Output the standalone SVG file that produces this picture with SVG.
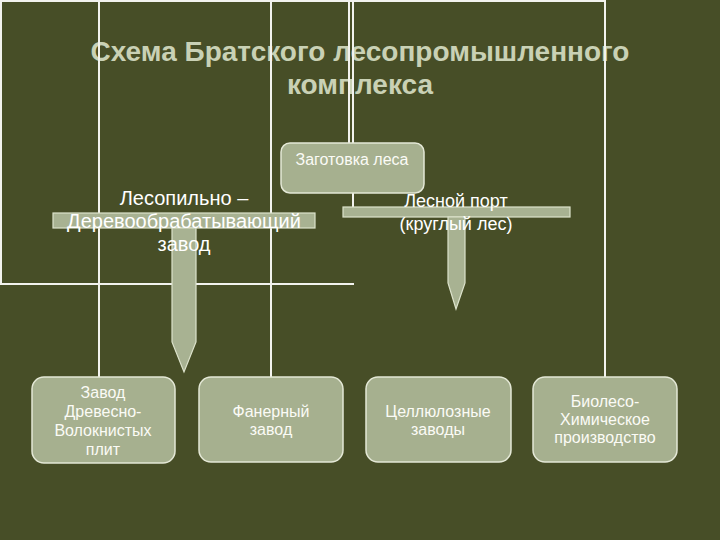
<svg xmlns="http://www.w3.org/2000/svg" width="720" height="540" viewBox="0 0 720 540">
<style>
.title{font-family:"Liberation Sans",Arial,sans-serif;font-weight:bold;font-size:28px;fill:#C9D1B5;text-anchor:middle}
.ln{stroke:#F2F2EE;stroke-width:2;fill:none}
.bar{fill:#A8B292;stroke:#DDE3CC;stroke-width:1.2}
.box{fill:#A6B08F;stroke:#E4E8D6;stroke-width:1.5}
.bt{font-family:"Liberation Sans",Arial,sans-serif;font-size:16px;fill:#FBFBF6;text-anchor:middle}
.lbl{font-family:"Liberation Sans",Arial,sans-serif;fill:#FFFFFF;text-anchor:middle}
</style>
<rect x="0" y="0" width="720" height="540" fill="#474E27"/>
<g id="title">
<text class="title" x="360" y="61">Схема Братского лесопромышленного</text>
<text class="title" x="360" y="94">комплекса</text>
</g>
<g id="connectors">
<line class="ln" x1="0" y1="1" x2="605" y2="1"/>
<line class="ln" x1="1" y1="0" x2="1" y2="284"/>
<line class="ln" x1="0" y1="284" x2="354" y2="284"/>
<line class="ln" x1="99" y1="0" x2="99" y2="377"/>
<line class="ln" x1="271" y1="0" x2="271" y2="377"/>
<line class="ln" x1="349" y1="0" x2="349" y2="143"/>
<line class="ln" x1="353" y1="0" x2="353" y2="143"/>
<line class="ln" x1="605" y1="0" x2="605" y2="377"/>
<line class="ln" x1="353" y1="193" x2="353" y2="207"/>
<rect class="bar" x="53" y="213" width="262" height="15"/>
<path class="bar" d="M172,228 L196,228 L196,342 L184,372 L172,342 Z"/>
<rect class="bar" x="343" y="207" width="227" height="10"/>
<path class="bar" d="M448,217 L465,217 L465,283 L456,309 L448,283 Z"/>
</g>
<g id="lesopil">
<text class="lbl" font-size="20" x="184" y="205">Лесопильно –</text>
<text class="lbl" font-size="20" x="184" y="228">Деревообрабатывающий</text>
<text class="lbl" font-size="20" x="184" y="251">завод</text>
</g>
<g id="port">
<text class="lbl" font-size="18" x="456" y="207">Лесной порт</text>
<text class="lbl" font-size="18" x="456" y="230">(круглый лес)</text>
</g>
<g id="zagotovka">
<rect class="box" x="281" y="143" width="143" height="50" rx="9"/>
<text class="bt" x="352" y="165">Заготовка леса</text>
</g>
<g id="dvp">
<rect class="box" x="32" y="377" width="143" height="86" rx="12"/>
<text class="bt" x="103" y="398">Завод</text>
<text class="bt" x="103" y="417">Древесно-</text>
<text class="bt" x="103" y="436">Волокнистых</text>
<text class="bt" x="103" y="455">плит</text>
</g>
<g id="faner">
<rect class="box" x="199" y="377" width="144" height="85" rx="12"/>
<text class="bt" x="271" y="417">Фанерный</text>
<text class="bt" x="271" y="435">завод</text>
</g>
<g id="cell">
<rect class="box" x="366" y="377" width="145" height="85" rx="12"/>
<text class="bt" x="438" y="417">Целлюлозные</text>
<text class="bt" x="438" y="435">заводы</text>
</g>
<g id="bio">
<rect class="box" x="533" y="377" width="144" height="85" rx="12"/>
<text class="bt" x="605" y="407">Биолесо-</text>
<text class="bt" x="605" y="425">Химическое</text>
<text class="bt" x="605" y="443">производство</text>
</g>
</svg>
